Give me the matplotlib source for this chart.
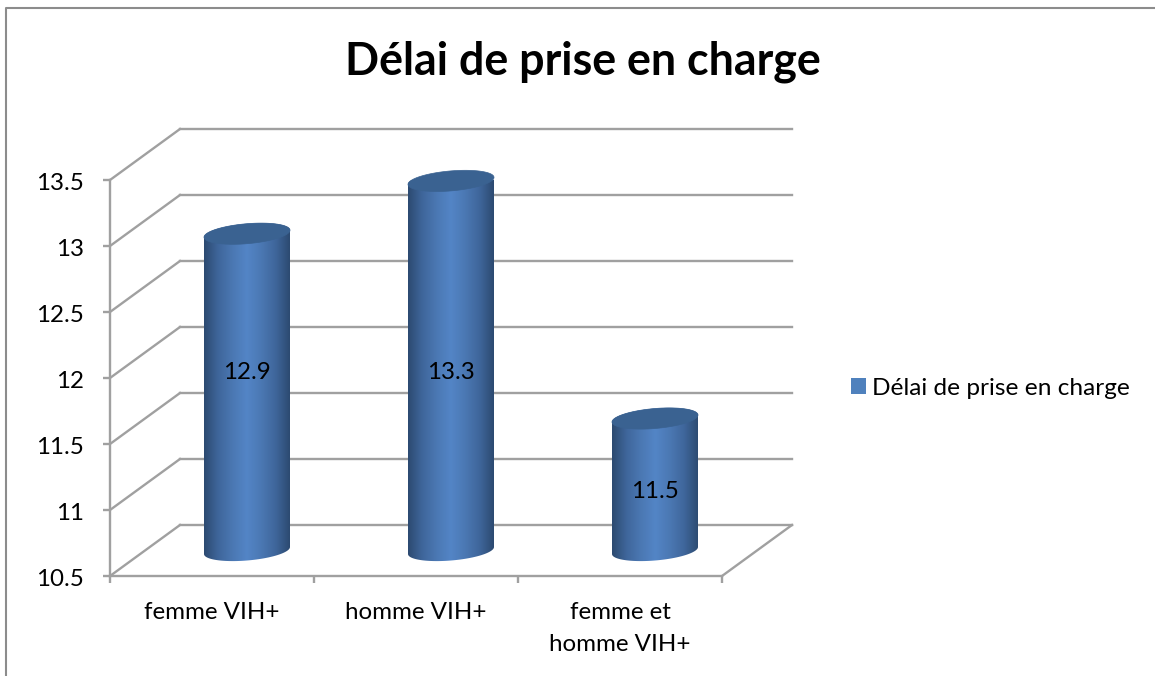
import numpy as np
import matplotlib
matplotlib.use('Agg')
import matplotlib.pyplot as plt
from matplotlib.patches import Patch, Polygon
from matplotlib.colors import LinearSegmentedColormap
from matplotlib.transforms import ScaledTranslation

categories = ['femme VIH+', 'homme VIH+', 'femme et\nhomme VIH+']
values = [12.9, 13.3, 11.5]
series_name = 'Délai de prise en charge'
yticks = [10.5, 11, 11.5, 12, 12.5, 13, 13.5]
ytick_labels = ['10.5', '11', '11.5', '12', '12.5', '13', '13.5']

plt.rcParams['font.family'] = ['Lato', 'DejaVu Sans']

W, H = 1155, 676
GREY = '#a0a0a0'
FS = 17.4
LW = 1.7
# front plane of the fake 3d box, in pixels
LEFT, RIGHT, BOTTOM, TOP = 110, 722, 576, 180
DEPTH_PX = (70, 51)

fig = plt.figure(figsize=(W / 100, H / 100), dpi=100)
ax = fig.add_axes([LEFT / W, 1 - BOTTOM / H, (RIGHT - LEFT) / W, (BOTTOM - TOP) / H])
ax.set_xlim(0, 3)
ax.set_ylim(10.5, 13.5)
ax.patch.set_visible(False)
for s in ['top', 'right']:
    ax.spines[s].set_visible(False)
for s in ['left', 'bottom']:
    ax.spines[s].set_color(GREY)
    ax.spines[s].set_linewidth(LW)

# pixels -> data units
ux = 3 / (RIGHT - LEFT)
uy = 3 / (BOTTOM - TOP)
dx, dy = DEPTH_PX[0] * ux, DEPTH_PX[1] * uy

# back wall gridlines, side wall and floor edges
for v in yticks:
    ax.plot([dx, 3 + dx], [v + dy, v + dy], color=GREY, lw=LW, clip_on=False, zorder=1)
    ax.plot([0, dx], [v, v + dy], color=GREY, lw=LW, clip_on=False, zorder=1)
ax.plot([3, 3 + dx], [10.5, 10.5 + dy], color=GREY, lw=LW, clip_on=False, zorder=1)

ax.set_yticks(yticks)
ax.set_yticklabels(ytick_labels, va='center_baseline')
ax.set_xticks([0, 1, 2, 3])
ax.set_xticklabels([])
ax.tick_params(axis='both', color=GREY, width=LW, length=5, labelsize=FS, labelcolor='black')
ax.tick_params(axis='y', pad=13.5)
# nudge the value labels down a little
nudge = ScaledTranslation(0, -2 / 100, fig.dpi_scale_trans)
for lab in ax.get_yticklabels():
    lab.set_transform(lab.get_transform() + nudge)

cmap_side = LinearSegmentedColormap.from_list('side', ['#2c4a70', '#3f669b', '#4b78b3', '#5385c6', '#4b78b3', '#3f669b', '#2c4a70'])
grad = np.linspace(0, 1, 256).reshape(1, -1)

a = 43 * ux
b = 10 * uy
t = np.linspace(0, 2 * np.pi, 121)


def ellipse(cx, cy):
    # sheared so the right side sits a bit higher
    xs = cx + a * np.cos(t)
    ys = cy + b * np.sin(t) + (a * np.cos(t)) * (7 / 86) * (uy / ux)
    return np.column_stack([xs, ys])


for i, v in enumerate(values):
    cx = i + 0.5 + dx / 2
    y0 = 10.5 + dy / 2
    y1 = v + dy / 2
    low = ellipse(cx, y0)
    up = ellipse(cx, y1)
    # body outline: lower half of base, then back over the upper half of the top
    verts = np.vstack([low[t >= np.pi], up[t <= np.pi]])
    body = Polygon(verts, closed=True, facecolor='none', edgecolor='none')
    ax.add_patch(body)
    im = ax.imshow(grad, cmap=cmap_side, aspect='auto', extent=[cx - a, cx + a, y0 - 2 * b, y1 + 2 * b],
                   zorder=2, interpolation='bilinear')
    im.set_clip_path(body)
    cap = Polygon(up, closed=True, facecolor='#3a6291', edgecolor='#3a6291', lw=0.5, zorder=3, clip_on=False)
    ax.add_patch(cap)

ax.set_xlim(0, 3)
ax.set_ylim(10.5, 13.5)

# data labels sit at fixed heights inside the cylinders
label_y = [12.04, 12.04, 11.14]
for i, v in enumerate(values):
    ax.text(i + 0.5 + dx / 2, label_y[i], f'{v}', ha='center', va='center', fontsize=FS, color='black', zorder=5)

# category labels
for i, c in enumerate(categories):
    ax.annotate(c, (i + 0.5, 10.5), xytext=(0, -19), textcoords='offset points', ha='center', va='top',
                fontsize=FS, color='black', linespacing=1.65, annotation_clip=False)

fig.text(583 / W, 1 - 62 / H, 'Délai de prise en charge', ha='center', va='center',
         fontsize=32.2, fontweight='bold', color='black')

leg = fig.legend(handles=[Patch(facecolor='#4f81bd', label=series_name)], loc='center left',
                 bbox_to_anchor=(846 / W, 1 - 388 / H), frameon=False, fontsize=17.6,
                 handlelength=0.62, handleheight=0.62, handletextpad=0.25, borderpad=0.2, borderaxespad=0)

# chart area border, only left and top are in frame
fig.add_artist(plt.Line2D([6 / W, 6 / W, 1], [0, 1 - 8 / H, 1 - 8 / H], color='#8c8c8c', lw=1.5,
                          transform=fig.transFigure))

fig.savefig('out.png', dpi=100)
